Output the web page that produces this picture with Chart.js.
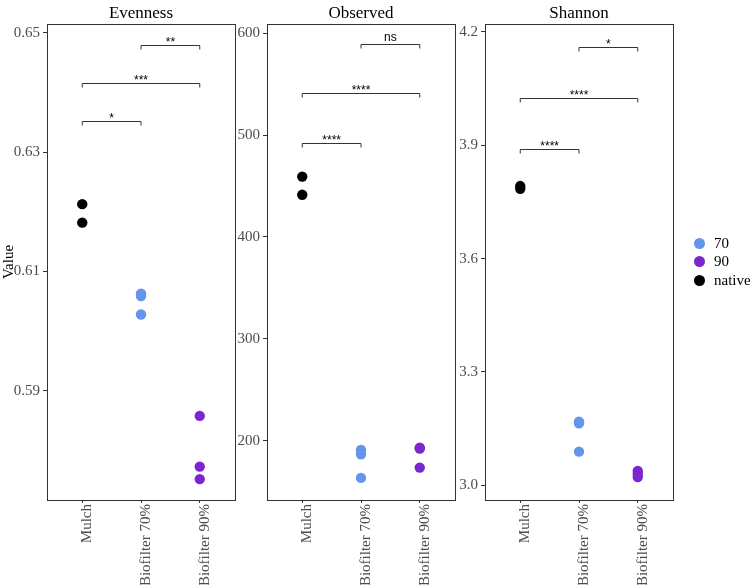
<!DOCTYPE html>
<html>
<head>
<meta charset="utf-8">
<script src="https://cdn.jsdelivr.net/npm/chart.js@4/dist/chart.umd.min.js"></script>
<style>
  html, body { margin:0; padding:0; background:#fff; }
  #wrap { position:relative; width:750px; height:585px; overflow:hidden; }
  canvas { position:absolute; left:0; top:0; }
  .legend { position:absolute; left:694px; top:234px; font:15px "Liberation Serif"; color:#000; }
  .legend div { height:18.4px; line-height:18px; white-space:nowrap; }
  .legend span.dot { display:inline-block; width:11px; height:11px; border-radius:50%; vertical-align:-1px; margin-right:9px; }
</style>
</head>
<body>
<div id="wrap">
  <canvas id="c1" width="750" height="585"></canvas>
  <canvas id="c2" width="750" height="585"></canvas>
  <canvas id="c3" width="750" height="585"></canvas>
  <div class="legend" id="legend"></div>
</div>
<script>
// ---- data ----
const categories = ['Mulch', 'Biofilter 70%', 'Biofilter 90%'];
const groups = ['70', '90', 'native'];
const groupColors = ['#6495ED', '#7D26CD', '#000000'];
const yAxisTitle = 'Value';

const evennessNative = [0.6213, 0.6182];
const evenness70 = [0.6063, 0.6059, 0.6028];
const evenness90 = [0.5858, 0.5773, 0.5752];

const observedNative = [459.2, 441.3];
const observed70 = [190.9, 186.6, 163.4];
const observed90 = [193.0, 192.2, 173.5];

const shannonNative = [3.792, 3.785];
const shannon70 = [3.168, 3.164, 3.089];
const shannon90 = [3.038, 3.030, 3.022];

const evennessTicks = [0.59, 0.61, 0.63, 0.65];
const observedTicks = [200, 300, 400, 500, 600];
const shannonTicks = [3.0, 3.3, 3.6, 3.9, 4.2];

const evennessLimits = [0.5717, 0.6515];
const observedLimits = [141.7, 609];
const shannonLimits = [2.961, 4.221];

// significance brackets: [fromCategory, toCategory, y (data units), label]
const evennessBrackets = [[1, 2, 0.6353, '*'], [1, 3, 0.6416, '***'], [2, 3, 0.6479, '**']];
const observedBrackets = [[1, 2, 492.1, '****'], [1, 3, 540.9, '****'], [2, 3, 589, 'ns']];
const shannonBrackets = [[1, 2, 3.891, '****'], [1, 3, 4.025, '****'], [2, 3, 4.159, '*']];

// ---- helpers ----
const panelPlugin = {
  id: 'panel',
  afterDraw(chart, args, opts) {
    const ctx = chart.ctx, a = chart.chartArea, xs = chart.scales.x, ys = chart.scales.y;
    ctx.save();
    ctx.strokeStyle = '#333333';
    ctx.lineWidth = 1;
    ctx.strokeRect(Math.round(a.left) + 0.5, Math.round(a.top) + 0.5,
                   Math.round(a.right - a.left), Math.round(a.bottom - a.top));
    ctx.fillStyle = '#000';
    ctx.font = '17px "Liberation Serif"';
    ctx.textAlign = 'center';
    ctx.textBaseline = 'alphabetic';
    ctx.fillText(opts.title, (a.left + a.right) / 2, 18);
    opts.brackets.forEach(b => {
      const x1 = xs.getPixelForValue(b[0]);
      const x2 = xs.getPixelForValue(b[1]);
      const yy = Math.round(ys.getPixelForValue(b[2])) + 0.5;
      ctx.strokeStyle = '#333333';
      ctx.beginPath();
      ctx.moveTo(x1, yy + 4); ctx.lineTo(x1, yy); ctx.lineTo(x2, yy); ctx.lineTo(x2, yy + 4);
      ctx.stroke();
      ctx.fillStyle = '#000';
      ctx.font = '12px "Liberation Sans"';
      ctx.fillText(b[3], (x1 + x2) / 2, b[3] === 'ns' ? yy - 4 : yy);
    });
    if (opts.yTitle) {
      ctx.save();
      ctx.translate(13, (a.top + a.bottom) / 2);
      ctx.rotate(-Math.PI / 2);
      ctx.font = '15px "Liberation Serif"';
      ctx.fillStyle = '#000';
      ctx.textAlign = 'center';
      ctx.textBaseline = 'alphabetic';
      ctx.fillText(opts.yTitle, 0, 0);
      ctx.restore();
    }
    ctx.restore();
  }
};

function pts(cat, vals) { return vals.map(v => ({ x: cat, y: v })); }

function makePanel(id, title, left, right, native, g70, g90, ticks, limits, decimals, brackets, yTitle) {
  const yW = 45, xH = 85;
  new Chart(document.getElementById(id), {
    type: 'scatter',
    data: {
      datasets: [
        { label: groups[0], data: pts(2, g70), backgroundColor: groupColors[0] },
        { label: groups[1], data: pts(3, g90), backgroundColor: groupColors[1] },
        { label: groups[2], data: pts(1, native), backgroundColor: groupColors[2] }
      ].map(d => Object.assign(d, { pointRadius: 5.2, borderWidth: 0, pointHoverRadius: 5.2 }))
    },
    options: {
      responsive: false,
      animation: false,
      devicePixelRatio: 1,
      layout: { padding: { left: left - yW, right: 750 - right, top: 24, bottom: 585 - 500 - xH } },
      plugins: {
        legend: { display: false },
        tooltip: { enabled: false },
        panel: { title: title, brackets: brackets, yTitle: yTitle }
      },
      scales: {
        x: {
          type: 'linear', min: 0.4, max: 3.6,
          afterBuildTicks: s => { s.ticks = [1, 2, 3].map(v => ({ value: v })); },
          afterFit: s => { s.height = xH; },
          ticks: {
            autoSkip: false, minRotation: 90, maxRotation: 90, padding: 1, labelOffset: 5,
            color: '#4D4D4D', font: { family: 'Liberation Serif', size: 15 },
            callback: v => categories[v - 1]
          },
          grid: { drawOnChartArea: false, drawTicks: true, tickLength: 3, tickColor: '#333333' },
          border: { display: false }
        },
        y: {
          min: limits[0], max: limits[1],
          afterBuildTicks: s => { s.ticks = ticks.map(v => ({ value: v })); },
          afterFit: s => { s.width = yW; },
          ticks: {
            padding: 3, color: '#4D4D4D', font: { family: 'Liberation Serif', size: 15 },
            callback: v => Number(v).toFixed(decimals)
          },
          grid: { drawOnChartArea: false, drawTicks: true, tickLength: 4, tickColor: '#333333' },
          border: { display: false }
        }
      }
    },
    plugins: [panelPlugin]
  });
}

makePanel('c1', 'Evenness', 47, 235, evennessNative, evenness70, evenness90, evennessTicks, evennessLimits, 2, evennessBrackets, yAxisTitle);
makePanel('c2', 'Observed', 267, 455, observedNative, observed70, observed90, observedTicks, observedLimits, 0, observedBrackets, null);
makePanel('c3', 'Shannon', 485, 673, shannonNative, shannon70, shannon90, shannonTicks, shannonLimits, 1, shannonBrackets, null);

// legend
const lg = document.getElementById('legend');
groups.forEach((g, i) => {
  const row = document.createElement('div');
  const dot = document.createElement('span');
  dot.className = 'dot';
  dot.style.background = groupColors[i];
  row.appendChild(dot);
  row.appendChild(document.createTextNode(g));
  lg.appendChild(row);
});
</script>
</body>
</html>
